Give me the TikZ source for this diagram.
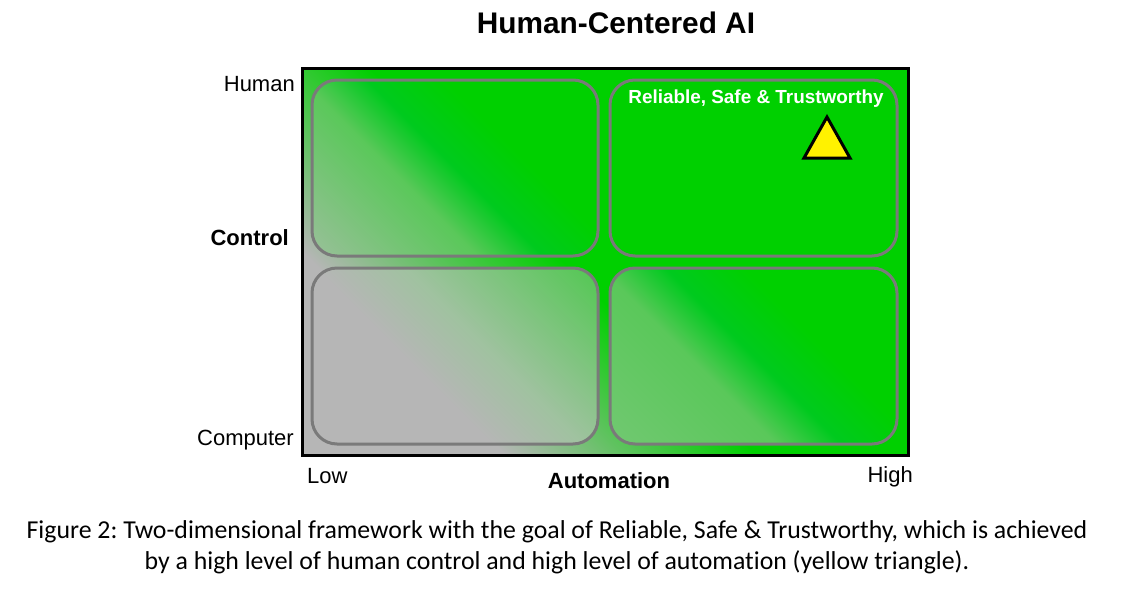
\documentclass[tikz,border=0pt]{standalone}
\usepackage{fontspec}
\setmainfont{Liberation Sans}
\newfontfamily\capfont[Ligatures=NoCommon]{Carlito}
\definecolor{hcgreen}{RGB}{0,208,0}
\definecolor{hcgray}{RGB}{182,182,182}
\definecolor{boxline}{RGB}{122,122,122}
\definecolor{bandgreen}{RGB}{0,202,30}
\definecolor{softgreen}{RGB}{150,192,150}
\definecolor{liftgreen}{RGB}{90,200,90}
\definecolor{palegreen}{RGB}{112,200,112}
\definecolor{mixgreen}{RGB}{160,194,160}
\definecolor{midgreen}{RGB}{80,200,80}
\pgfdeclarehorizontalshading{backshade}{100bp}{color(0bp)=(hcgray); color(29bp)=(hcgray); color(47bp)=(hcgreen); color(100bp)=(hcgreen)}
\pgfdeclarehorizontalshading{upshade}{100bp}{color(0bp)=(softgreen); color(16bp)=(softgreen); color(40bp)=(liftgreen); color(50bp)=(bandgreen); color(62bp)=(hcgreen); color(100bp)=(hcgreen)}
\pgfdeclarehorizontalshading{rightshade}{100bp}{color(0bp)=(palegreen); color(16bp)=(palegreen); color(40bp)=(liftgreen); color(50bp)=(bandgreen); color(62bp)=(hcgreen); color(100bp)=(hcgreen)}
\pgfdeclarehorizontalshading{lowshade}{100bp}{color(0bp)=(hcgray); color(42bp)=(hcgray); color(56bp)=(mixgreen); color(86bp)=(midgreen); color(100bp)=(midgreen)}

\begin{document}
\begin{tikzpicture}[x=1pt, y=-1pt,
  quad/.style={draw=boxline, line width=3pt, rounded corners=25pt},
  axislab/.style={font=\fontsize{22}{26}\selectfont, inner sep=0pt}]
\useasboundingbox (0,0) rectangle (1128,595);
% field
\shade[shading=backshade, shading angle=45] (302,68) rectangle (908,455);
\shade[quad, shading=upshade, shading angle=45] (312,80) rectangle (598,256);
\draw[quad, fill=hcgreen] (610,80) rectangle (897,256);
\shade[quad, shading=lowshade, shading angle=45] (312,268) rectangle (598,444);
\shade[quad, shading=rightshade, shading angle=45] (610,268) rectangle (897,444);
\draw[line width=3pt] (302,68) rectangle (908,455);
% goal
\node[white, font=\fontsize{18.9}{22}\selectfont\bfseries, inner sep=0pt] (goal) at (756,99) {Reliable, Safe \& Trustworthy};
\draw[fill=yellow, line width=3pt] (827,117) -- (804,158) -- (850,158) -- cycle;
% labels
\node[font=\fontsize{29.8}{34}\selectfont\bfseries, inner sep=0pt] (title) at (616,23) {Human-Centered AI};
\node[axislab, anchor=east] (human) at (295,84.5) {Human};
\node[axislab, anchor=east, font=\fontsize{22}{26}\selectfont\bfseries] (control) at (289,238) {Control};
\node[axislab, anchor=east] (computer) at (294,440) {Computer};
\node[axislab, anchor=west] (low) at (307,476) {Low};
\node[axislab, font=\fontsize{22}{26}\selectfont\bfseries] (automation) at (609,481) {Automation};
\node[axislab, anchor=east] (high) at (913,477) {High};
\node[align=center, font=\capfont\fontsize{25.8}{31}\selectfont\frenchspacing, inner sep=0pt] (caption) at (557,547)
  {Figure 2: Two-dimensional framework with the goal of Reliable, Safe \& Trustworthy, which is achieved\\
   by a high level of human control and high level of automation (yellow triangle).};
\end{tikzpicture}
\end{document}
